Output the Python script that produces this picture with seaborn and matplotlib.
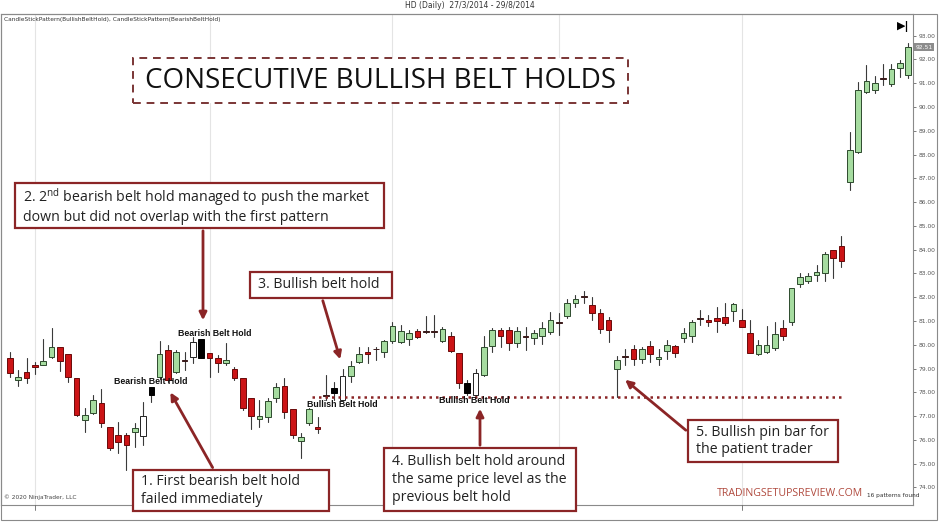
import matplotlib
matplotlib.use("Agg")
import matplotlib.pyplot as plt
from matplotlib.patches import Rectangle, FancyArrowPatch
import seaborn as sns
import numpy as np
import pandas as pd

# HD daily bars 27/3/2014 - 29/8/2014
opens = [79.43, 78.51, 78.87, 79.15, 79.15, 79.47, 79.89, 79.59, 78.61, 76.83,
         77.15, 77.53, 76.55, 76.20, 76.20, 76.34, 76.16, 78.23, 78.65, 79.78,
         78.87, 79.31, 79.47, 80.23, 79.66, 79.43, 79.24, 78.96, 78.59, 77.74,
         76.86, 76.97, 77.74, 78.26, 77.28, 75.96, 76.69, 76.52, 77.85, 78.16,
         77.67, 78.68, 79.29, 79.68, 79.80, 79.71, 80.17, 80.10, 80.24, 80.59,
         80.55, 80.54, 80.17, 80.37, 79.66, 78.40, 77.88, 78.72, 79.94, 80.64,
         80.62, 80.08, 80.33, 80.27, 80.38, 80.55, 80.95, 81.22, 81.77, 82.01,
         81.67, 81.34, 81.04, 78.96, 79.50, 79.84, 79.42, 79.96, 79.38, 79.73,
         79.94, 80.29, 80.36, 81.10, 81.04, 81.11, 81.15, 81.42, 81.02, 80.49,
         79.61, 79.71, 79.85, 80.69, 80.97, 82.54, 82.70, 82.94, 83.03, 83.99,
         84.16, 86.83, 88.12, 90.64, 90.71, 91.17, 90.97, 91.63, 91.35]
highs = [79.71, 78.94, 79.43, 79.29, 80.23, 80.69, 79.92, 79.59, 78.61, 77.36,
         77.88, 78.14, 76.55, 76.76, 76.27, 76.69, 77.60, 78.23, 80.17, 79.99,
         79.78, 79.71, 80.34, 80.23, 79.66, 79.57, 80.06, 79.08, 78.59, 77.74,
         77.67, 77.74, 78.37, 78.59, 77.28, 76.27, 77.36, 76.97, 78.72, 78.44,
         79.00, 79.31, 79.92, 79.92, 79.92, 80.20, 80.97, 80.83, 80.62, 80.65,
         81.21, 81.25, 80.76, 80.55, 79.66, 78.51, 79.00, 80.36, 80.69, 80.69,
         80.76, 80.76, 80.76, 80.62, 80.97, 81.39, 81.35, 81.91, 82.09, 82.27,
         82.02, 81.49, 81.18, 79.54, 79.84, 79.98, 79.90, 80.15, 79.80, 80.20,
         79.98, 80.69, 81.04, 81.46, 81.25, 81.60, 81.74, 81.77, 81.49, 81.04,
         80.20, 80.79, 80.97, 81.02, 82.38, 83.01, 83.03, 83.36, 83.92, 83.99,
         84.58, 88.96, 91.07, 91.77, 91.30, 91.81, 91.80, 91.98, 92.71]
lows = [78.66, 78.26, 78.40, 78.77, 79.15, 79.43, 78.89, 78.42, 77.00, 76.34,
        77.07, 76.55, 75.57, 75.43, 74.75, 75.71, 75.78, 77.60, 78.58, 78.44,
        78.80, 78.94, 79.24, 79.43, 78.65, 78.87, 79.15, 78.51, 77.25, 76.44,
        76.55, 76.76, 77.60, 76.90, 76.06, 75.22, 76.62, 76.27, 77.67, 77.67,
        77.67, 78.44, 79.22, 79.22, 79.36, 79.50, 80.06, 80.06, 79.99, 80.30,
        80.48, 80.34, 80.10, 79.70, 78.16, 77.88, 77.84, 78.68, 79.70, 79.91,
        79.77, 79.89, 79.77, 80.05, 80.03, 80.45, 80.41, 81.11, 81.57, 81.74,
        81.06, 80.48, 80.10, 77.82, 79.14, 79.14, 79.25, 79.28, 79.14, 79.38,
        79.49, 80.13, 80.13, 80.83, 80.79, 80.55, 80.83, 81.01, 80.76, 79.64,
        79.57, 79.67, 79.78, 80.20, 80.83, 82.42, 82.61, 82.66, 82.66, 82.80,
        83.26, 86.51, 88.08, 90.60, 90.60, 90.93, 90.88, 91.25, 91.21]
closes = [78.80, 78.63, 78.61, 79.05, 79.31, 79.89, 79.33, 78.63, 77.04, 77.03,
          77.67, 76.69, 75.64, 75.89, 75.78, 76.48, 77.00, 77.88, 79.61, 78.51,
          79.71, 79.35, 80.10, 79.43, 79.43, 79.24, 79.36, 78.59, 77.32, 77.00,
          77.00, 77.64, 78.21, 77.18, 76.20, 76.13, 77.28, 76.44, 77.88, 77.99,
          78.68, 79.10, 79.61, 79.61, 79.84, 80.16, 80.79, 80.59, 80.48, 80.34,
          80.57, 80.56, 80.65, 79.75, 78.37, 77.98, 78.82, 79.91, 80.64, 80.38,
          80.08, 80.57, 80.35, 80.48, 80.69, 81.04, 80.90, 81.74, 81.91, 82.03,
          81.34, 80.66, 80.64, 79.35, 79.53, 79.38, 79.80, 79.61, 79.49, 80.01,
          79.66, 80.50, 80.97, 81.12, 80.97, 80.99, 80.90, 81.70, 80.76, 79.67,
          79.99, 79.99, 80.44, 80.37, 82.38, 82.84, 82.90, 83.08, 83.82, 83.64,
          83.54, 88.19, 90.71, 91.11, 91.00, 91.20, 91.58, 91.84, 92.51]

# bars the pattern indicator repaints
bearish_hold_bars = [17, 23, 39, 55]
bullish_hold_bars = [16, 22, 40, 56]

month_start_bars = [3, 24, 46, 66, 88]
support_level = 77.8
support_from, support_to = 36.3, 100.2

pattern_labels = [("Bearish Belt Hold", 16.9, 78.47),
                  ("Bearish Belt Hold", 24.6, 80.49),
                  ("Bullish Belt Hold", 40.0, 77.47),
                  ("Bullish Belt Hold", 55.9, 77.67)]

y_ticks = np.arange(74, 94, 1)
y_grid = np.arange(74, 93, 3)

df = pd.DataFrame({"open": opens, "high": highs, "low": lows, "close": closes})
df["bar"] = np.arange(len(df))

W, H = 939, 526
RED = "#8b2526"


def fx(px):
    return px / W


def fy(py):
    return 1 - py / H


sns.set_style("white")
plt.rcParams["font.family"] = ["Open Sans", "DejaVu Sans"]
plt.rcParams["mathtext.fontset"] = "custom"
plt.rcParams["mathtext.rm"] = "Open Sans"

fig = plt.figure(figsize=(9.39, 5.26), dpi=100)
ax = fig.add_axes([fx(1), fy(505), fx(913) - fx(1), fy(14) - fy(505)])
ax.set_xlim(-1.08, 108.6)
ax.set_ylim(73.26, 93.91)

# grid
ax.set_yticks(y_grid, minor=True)
ax.set_xticks(month_start_bars, minor=True)
ax.grid(which="minor", color="#e4e4e4", lw=0.8)
ax.set_axisbelow(True)

# wicks through seaborn
wicks = pd.concat([df[["bar", "high"]].rename(columns={"high": "price"}),
                   df[["bar", "low"]].rename(columns={"low": "price"})])
sns.lineplot(data=wicks, x="bar", y="price", units="bar", estimator=None,
             color="#3a3a3a", lw=0.8, ax=ax, zorder=2)

# bodies
body_lo = np.minimum(df["open"], df["close"])
body_h = np.maximum((df["close"] - df["open"]).abs(), 0.04)
face, edge = [], []
for i, r in df.iterrows():
    if i in bearish_hold_bars:
        face.append("black"); edge.append("black")
    elif i in bullish_hold_bars:
        face.append("white"); edge.append("#222222")
    elif abs(r.close - r.open) < 0.05:
        face.append("#3a1a1a"); edge.append("#3a1a1a")
    elif r.close > r.open:
        face.append("#a6dca0"); edge.append("#2d4a2d")
    else:
        face.append("#cc1416"); edge.append("#6a0a0a")
ax.bar(df["bar"], body_h, bottom=body_lo, width=0.68, color=face,
       edgecolor=edge, lw=0.7, zorder=3)

# support line
ax.hlines(support_level, support_from, support_to, colors=RED, lw=1.8,
          linestyles=(0, (1, 1.6)), zorder=4)

for txt, xb, yp in pattern_labels:
    ax.text(xb, yp, txt, ha="center", va="center", fontsize=6.3,
            fontweight="bold", family="Liberation Sans", color="#111111", zorder=5)

# right price axis
ax.yaxis.tick_right()
ax.set_yticks(y_ticks)
ax.set_yticklabels([f"{v:.2f}" for v in y_ticks], fontsize=4.3, color="#555555",
                   family="DejaVu Sans")
ax.tick_params(axis="y", which="major", length=2.5, width=0.6, color="#666666", pad=1.5)
ax.tick_params(axis="both", which="minor", length=0)
ax.set_xticks([])
ax.set_xlabel("")
ax.set_ylabel("")
for s in ax.spines.values():
    s.set_color("#8a8a8a")
    s.set_linewidth(0.8)

ax.text(1.003, 92.51, "92.51", transform=ax.get_yaxis_transform(), fontsize=4.3,
        color="white", va="center", ha="left", family="DejaVu Sans",
        bbox=dict(boxstyle="square,pad=0.25", fc="#8c8c8c", ec="none"))

# outer frame and header
fig.add_artist(Rectangle((fx(0.5), fy(520)), fx(937) - fx(0.5), fy(14) - fy(520),
                         transform=fig.transFigure, fill=False, ec="#8a8a8a", lw=0.8))
fig.text(fx(470), fy(6), "HD (Daily)  27/3/2014 - 29/8/2014", ha="center",
         va="center", fontsize=5.5, color="#333333", family="DejaVu Sans")
fig.text(fx(4), fy(20), "CandleStickPattern(BullishBeltHold), CandleStickPattern(BearishBeltHold)",
         ha="left", va="center", fontsize=4.2, color="#333333", family="DejaVu Sans")
fig.text(fx(897), fy(26), "\u25b6|", ha="left", va="center", fontsize=8,
         fontweight="bold", color="black", family="DejaVu Sans")
fig.text(fx(4), fy(497), "\u00a9 2020 NinjaTrader, LLC", ha="left", va="center",
         fontsize=4.2, color="#444444", family="DejaVu Sans")
fig.text(fx(867), fy(495), "16 patterns found", ha="left", va="center",
         fontsize=4.2, color="#333333", family="DejaVu Sans")
fig.text(fx(717), fy(494), "TRADINGSETUPSREVIEW.COM", ha="left", va="center",
         fontsize=7.6, color="#b04a3e")

# month markers under the axis
for b in month_start_bars:
    xpix = 1 + (b + 1.08) / (108.6 + 1.08) * 912
    fig.add_artist(plt.Line2D([fx(xpix), fx(xpix)], [fy(505), fy(510)],
                              transform=fig.transFigure, color="#666666", lw=0.6))

# title box
fig.add_artist(Rectangle((fx(133), fy(103)), fx(628) - fx(133), fy(58) - fy(103),
                         transform=fig.transFigure, fill=True, fc="white",
                         ec="#7a3535", lw=1.4, ls=(0, (4, 3)), zorder=6))
fig.text(fx(380.5), fy(80.5), "CONSECUTIVE BULLISH BELT HOLDS", ha="center",
         va="center", fontsize=20, color="#111111", zorder=7)

boxes = [
    ((15, 183, 384, 228), r"2. 2$^{\mathrm{nd}}$ bearish belt hold managed to push the market" + "\n" +
     "down but did not overlap with the first pattern"),
    ((250, 272, 392, 298), "3. Bullish belt hold"),
    ((133, 470, 329, 511), "1. First bearish belt hold\nfailed immediately"),
    ((384, 448, 576, 511), "4. Bullish belt hold around\nthe same price level as the\nprevious belt hold"),
    ((688, 420, 838, 462), "5. Bullish pin bar for\nthe patient trader"),
]
for (x0, y0, x1, y1), txt in boxes:
    fig.add_artist(Rectangle((fx(x0), fy(y1)), fx(x1) - fx(x0), fy(y0) - fy(y1),
                             transform=fig.transFigure, fc="white", ec=RED,
                             lw=1.6, zorder=6))
    fig.text(fx(x0 + 8), fy((y0 + y1) / 2), txt, ha="left", va="center",
             fontsize=10.2, color="#222222", linespacing=1.25, zorder=7)

arrows = [((203, 228), (203, 323)),
          ((322, 298), (341, 362)),
          ((214, 470), (169, 390)),
          ((480, 448), (480, 406)),
          ((688, 432), (623, 378))]
for (a, b) in arrows:
    fig.add_artist(FancyArrowPatch((fx(a[0]), fy(a[1])), (fx(b[0]), fy(b[1])),
                                   transform=fig.transFigure, arrowstyle="-|>",
                                   mutation_scale=11, color=RED, lw=2, zorder=6))

fig.savefig("out.png", dpi=100)
